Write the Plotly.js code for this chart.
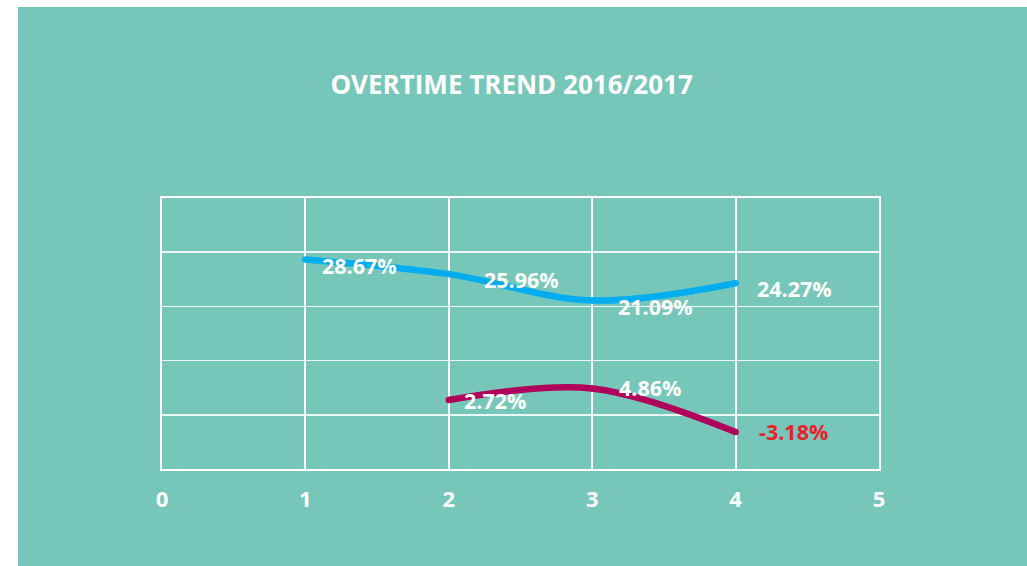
<!DOCTYPE html>
<html><head><meta charset="utf-8">
<script src="https://cdn.plot.ly/plotly-3.0.1.min.js"></script>
<style>
html,body{margin:0;padding:0;background:#fff;width:1027px;height:566px;overflow:hidden}
#chart{position:absolute;left:18px;top:7px;width:1009px;height:559px}
</style></head><body>
<div id="chart"></div>
<script>
const xBlue = [1, 2, 3, 4];
const blueValues = [28.67, 25.96, 21.09, 24.27];
const xRed = [2, 3, 4];
const redValues = [2.72, 4.86, -3.18];
const xTicks = [0, 1, 2, 3, 4, 5];

const bg = '#76C7B9';
const blueLabelShift = [[15,-6],[33,-5],[24,-6],[19,-5]];
const redLabelShift = [[13,0],[25,1],[21,1]];

const fmt = v => v.toFixed(2) + '%';
const labelFont = c => ({family:'Open Sans',size:21.5,color:c,weight:700});
const annotations = [];
xBlue.forEach((x,i)=>annotations.push({x:x,y:blueValues[i],text:fmt(blueValues[i]),showarrow:false,xanchor:'left',yanchor:'middle',xshift:blueLabelShift[i][0],yshift:blueLabelShift[i][1],font:labelFont('#ffffff')}));
xRed.forEach((x,i)=>annotations.push({x:x,y:redValues[i],text:fmt(redValues[i]),showarrow:false,xanchor:'left',yanchor:'middle',xshift:redLabelShift[i][0],yshift:redLabelShift[i][1],font:labelFont(redValues[i]<0?'#E8212B':'#ffffff')}));

const traces = [
 {x:xBlue,y:blueValues,type:'scatter',mode:'lines+markers',line:{color:'#00AEEF',width:6.5,shape:'spline',smoothing:1},marker:{color:'#00AEEF',size:6.5},hoverinfo:'skip'},
 {x:xRed,y:redValues,type:'scatter',mode:'lines+markers',line:{color:'#B1005B',width:6.5,shape:'spline',smoothing:1},marker:{color:'#B1005B',size:6.5},hoverinfo:'skip'}
];
const layout = {
 width:1009,height:559,
 paper_bgcolor:bg,plot_bgcolor:bg,
 margin:{l:144,r:148,t:191,b:97},
 showlegend:false,
 title:{text:'OVERTIME TREND 2016/2017',x:0.4876,xref:'paper',xanchor:'center',y:1-78/559,yref:'container',yanchor:'middle',font:{family:'Open Sans',size:26,color:'#ffffff',weight:700}},
 xaxis:{range:[0,5],tickvals:xTicks,ticktext:xTicks.map(String),showgrid:true,gridcolor:'#ffffff',gridwidth:2,zeroline:false,showline:true,linecolor:'#ffffff',linewidth:2,mirror:true,ticks:'',ticklabelstandoff:10,tickfont:{family:'Open Sans',size:22,color:'#ffffff',weight:700}},
 yaxis:{range:[-10,40],dtick:10,tick0:0,showgrid:true,gridcolor:'rgba(255,255,255,0.85)',gridwidth:1.5,zeroline:false,showline:true,linecolor:'#ffffff',linewidth:2,mirror:true,showticklabels:false,ticks:''},
 annotations:annotations
};
Plotly.newPlot('chart',traces,layout,{displayModeBar:false,staticPlot:true});
</script></body></html>
